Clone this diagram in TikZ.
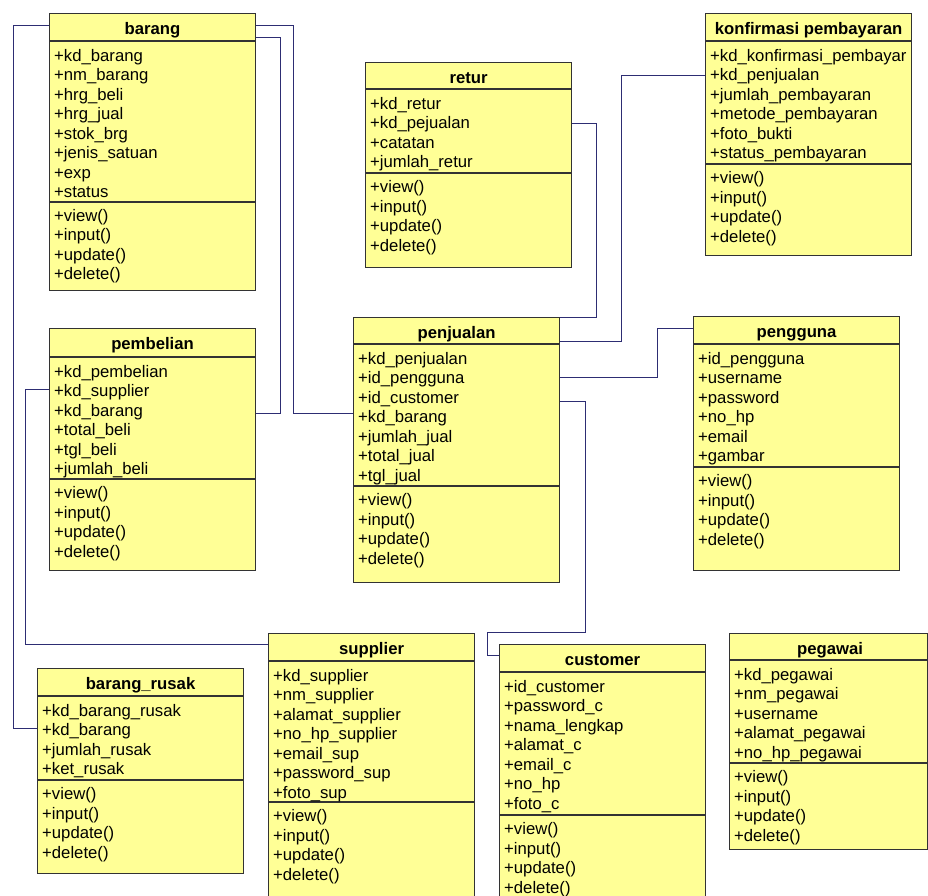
\documentclass[tikz,border=0pt]{standalone}
\usepackage{fontspec}
\setmainfont{Liberation Sans}
\definecolor{umlyellow}{RGB}{255,255,150}
\definecolor{linkblue}{RGB}{45,45,115}
\tikzset{
  cls/.style={draw=black!80,fill=umlyellow,line width=1.1pt,minimum width=206pt,inner sep=0pt,anchor=north west},
  sepline/.style={draw=black!80,line width=1.1pt},
  ctitle/.style={font=\fontsize{16.7}{19.5}\selectfont\bfseries,anchor=base,inner sep=0pt},
  crow/.style={anchor=base west,inner sep=0pt},
  assoc/.style={draw=linkblue,line width=1pt},
}
\begin{document}
\begin{tikzpicture}[x=1pt,y=-1pt,font=\fontsize{16.7}{19.5}\selectfont]
\useasboundingbox (0,0) rectangle (928,895);
\fill[white] (0,0) rectangle (928,895);
\clip (0,0) rectangle (928,895);

% barang
\node[cls,minimum height=277] (barang) at (49,13) {};
\draw[sepline] (barang.west |- 0,41) -- (barang.east |- 0,41) (barang.west |- 0,202) -- (barang.east |- 0,202);
\node[ctitle] (barang-t) at (barang.north |- 0,34) {barang};
\foreach \a [count=\i] in {kd\_barang,nm\_barang,hrg\_beli,hrg\_jual,stok\_brg,jenis\_satuan,exp,status}
  \node[crow] (barang-a\i) at (54,{61+19.5*(\i-1)}) {+\a};
\foreach \m [count=\i] in {view,input,update,delete}
  \node[crow] (barang-m\i) at (54,{221+19.5*(\i-1)}) {+\m()};

% pembelian
\node[cls,minimum height=242] (pembelian) at (49,328) {};
\draw[sepline] (pembelian.west |- 0,357) -- (pembelian.east |- 0,357) (pembelian.west |- 0,479) -- (pembelian.east |- 0,479);
\node[ctitle] (pembelian-t) at (pembelian.north |- 0,349) {pembelian};
\foreach \a [count=\i] in {kd\_pembelian,kd\_supplier,kd\_barang,total\_beli,tgl\_beli,jumlah\_beli}
  \node[crow] (pembelian-a\i) at (54,{377+19.5*(\i-1)}) {+\a};
\foreach \m [count=\i] in {view,input,update,delete}
  \node[crow] (pembelian-m\i) at (54,{498.5+19.5*(\i-1)}) {+\m()};

% retur
\node[cls,minimum height=205] (retur) at (365,62) {};
\draw[sepline] (retur.west |- 0,89) -- (retur.east |- 0,89) (retur.west |- 0,173) -- (retur.east |- 0,173);
\node[ctitle] (retur-t) at (retur.north |- 0,83) {retur};
\foreach \a [count=\i] in {kd\_retur,kd\_pejualan,catatan,jumlah\_retur}
  \node[crow] (retur-a\i) at (370,{109+19.5*(\i-1)}) {+\a};
\foreach \m [count=\i] in {view,input,update,delete}
  \node[crow] (retur-m\i) at (370,{192.5+19.5*(\i-1)}) {+\m()};

% konfirmasi pembayaran
\node[cls,minimum height=242] (konfirmasi) at (705,13) {};
\draw[sepline] (konfirmasi.west |- 0,41) -- (konfirmasi.east |- 0,41) (konfirmasi.west |- 0,164) -- (konfirmasi.east |- 0,164);
\node[ctitle] (konfirmasi-t) at (konfirmasi.north |- 0,34) {konfirmasi pembayaran};
\foreach \a [count=\i] in {kd\_konfirmasi\_pembayar,kd\_penjualan,jumlah\_pembayaran,metode\_pembayaran,foto\_bukti,status\_pembayaran}
  \node[crow] (konfirmasi-a\i) at (710,{61+19.5*(\i-1)}) {+\a};
\foreach \m [count=\i] in {view,input,update,delete}
  \node[crow] (konfirmasi-m\i) at (710,{183.5+19.5*(\i-1)}) {+\m()};

% penjualan
\node[cls,minimum height=265] (penjualan) at (353,317) {};
\draw[sepline] (penjualan.west |- 0,344) -- (penjualan.east |- 0,344) (penjualan.west |- 0,486) -- (penjualan.east |- 0,486);
\node[ctitle] (penjualan-t) at (penjualan.north |- 0,338) {penjualan};
\foreach \a [count=\i] in {kd\_penjualan,id\_pengguna,id\_customer,kd\_barang,jumlah\_jual,total\_jual,tgl\_jual}
  \node[crow] (penjualan-a\i) at (358,{364+19.5*(\i-1)}) {+\a};
\foreach \m [count=\i] in {view,input,update,delete}
  \node[crow] (penjualan-m\i) at (358,{505.5+19.5*(\i-1)}) {+\m()};

% pengguna
\node[cls,minimum height=254] (pengguna) at (693,316) {};
\draw[sepline] (pengguna.west |- 0,344) -- (pengguna.east |- 0,344) (pengguna.west |- 0,467) -- (pengguna.east |- 0,467);
\node[ctitle] (pengguna-t) at (pengguna.north |- 0,337) {pengguna};
\foreach \a [count=\i] in {id\_pengguna,username,password,no\_hp,email,gambar}
  \node[crow] (pengguna-a\i) at (698,{364+19.5*(\i-1)}) {+\a};
\foreach \m [count=\i] in {view,input,update,delete}
  \node[crow] (pengguna-m\i) at (698,{486.5+19.5*(\i-1)}) {+\m()};

% barang_rusak
\node[cls,minimum height=205] (rusak) at (37,668) {};
\draw[sepline] (rusak.west |- 0,696) -- (rusak.east |- 0,696) (rusak.west |- 0,780) -- (rusak.east |- 0,780);
\node[ctitle] (rusak-t) at (rusak.north |- 0,689) {barang\_rusak};
\foreach \a [count=\i] in {kd\_barang\_rusak,kd\_barang,jumlah\_rusak,ket\_rusak}
  \node[crow] (rusak-a\i) at (42,{716+19.5*(\i-1)}) {+\a};
\foreach \m [count=\i] in {view,input,update,delete}
  \node[crow] (rusak-m\i) at (42,{799.5+19.5*(\i-1)}) {+\m()};

% supplier
\node[cls,minimum height=280] (supplier) at (268,633) {};
\draw[sepline] (supplier.west |- 0,661) -- (supplier.east |- 0,661) (supplier.west |- 0,802) -- (supplier.east |- 0,802);
\node[ctitle] (supplier-t) at (supplier.north |- 0,654) {supplier};
\foreach \a [count=\i] in {kd\_supplier,nm\_supplier,alamat\_supplier,no\_hp\_supplier,email\_sup,password\_sup,foto\_sup}
  \node[crow] (supplier-a\i) at (273,{681+19.5*(\i-1)}) {+\a};
\foreach \m [count=\i] in {view,input,update,delete}
  \node[crow] (supplier-m\i) at (273,{821.5+19.5*(\i-1)}) {+\m()};

% customer
\node[cls,minimum height=270] (customer) at (499,644) {};
\draw[sepline] (customer.west |- 0,672) -- (customer.east |- 0,672) (customer.west |- 0,815) -- (customer.east |- 0,815);
\node[ctitle] (customer-t) at (customer.north |- 0,665) {customer};
\foreach \a [count=\i] in {id\_customer,password\_c,nama\_lengkap,alamat\_c,email\_c,no\_hp,foto\_c}
  \node[crow] (customer-a\i) at (504,{692+19.5*(\i-1)}) {+\a};
\foreach \m [count=\i] in {view,input,update,delete}
  \node[crow] (customer-m\i) at (504,{834.5+19.5*(\i-1)}) {+\m()};

% pegawai
\node[cls,minimum height=216,minimum width=198] (pegawai) at (729,633) {};
\draw[sepline] (pegawai.west |- 0,660) -- (pegawai.east |- 0,660) (pegawai.west |- 0,763) -- (pegawai.east |- 0,763);
\node[ctitle] (pegawai-t) at (830,654) {pegawai};
\foreach \a [count=\i] in {kd\_pegawai,nm\_pegawai,username,alamat\_pegawai,no\_hp\_pegawai}
  \node[crow] (pegawai-a\i) at (734,{680+19.5*(\i-1)}) {+\a};
\foreach \m [count=\i] in {view,input,update,delete}
  \node[crow] (pegawai-m\i) at (734,{782.5+19.5*(\i-1)}) {+\m()};

% relations
\draw[assoc] (barang.west |- 0,25) -| (13,728) -- (rusak.west |- 0,728);
\draw[assoc] (barang.east |- 0,25) -| (293,413) -- (penjualan.west |- 0,413);
\draw[assoc] (barang.east |- 0,37) -| (280,413) -- (pembelian.east |- 0,413);
\draw[assoc] (pembelian.west |- 0,389) -| (25,644) -- (supplier.west |- 0,644);
\draw[assoc] (retur.east |- 0,123) -| (596,317) -- (penjualan.east |- 0,317);
\draw[assoc] (konfirmasi.west |- 0,75) -| (621,341) -- (penjualan.east |- 0,341);
\draw[assoc] (pengguna.west |- 0,328) -| (657,377) -- (penjualan.east |- 0,377);
\draw[assoc] (penjualan.east |- 0,401) -| (585,632) -| (487,655) -- (customer.west |- 0,655);
\end{tikzpicture}
\end{document}
